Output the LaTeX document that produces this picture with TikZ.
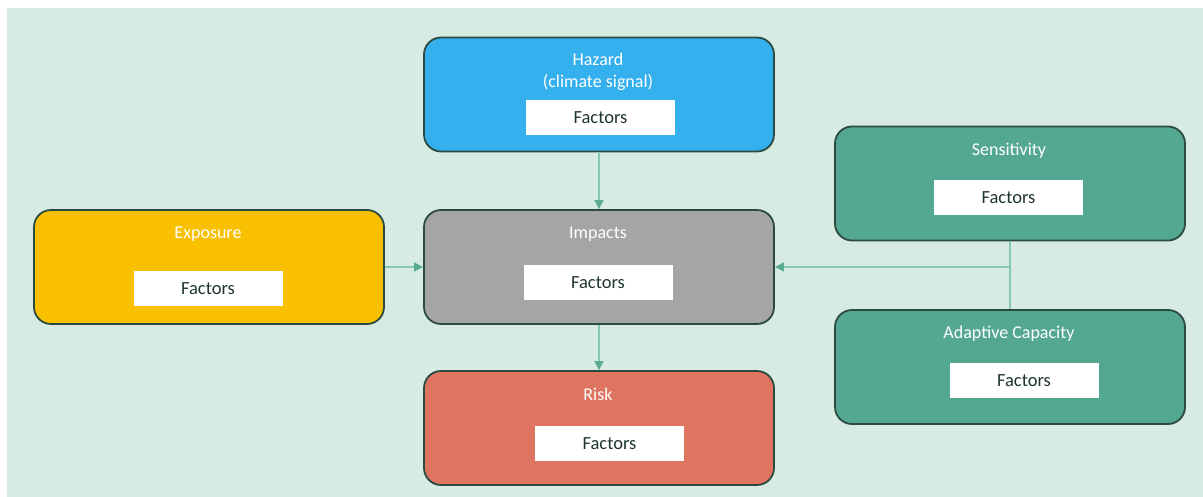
\documentclass[tikz,border=0pt]{standalone}
\usepackage{fontspec}
\setmainfont{Carlito}
\usetikzlibrary{arrows.meta}
\definecolor{bgc}{HTML}{D7EBE3}
\definecolor{edgec}{HTML}{2B4A42}
\definecolor{hazc}{HTML}{35B0EE}
\definecolor{impc}{HTML}{A5A5A5}
\definecolor{riskc}{HTML}{DF7461}
\definecolor{expc}{HTML}{F9C000}
\definecolor{senc}{HTML}{54A892}
\definecolor{linec}{HTML}{86C9B2}
\definecolor{tipc}{HTML}{5AAB92}
\definecolor{factc}{HTML}{1E3530}
\begin{document}
\begin{tikzpicture}[x=1pt,y=-1pt,
  bigbox/.style={draw=edgec,line width=1.8pt,rounded corners=17pt,minimum width=350pt,minimum height=114pt,inner sep=0pt},
  facbox/.style={fill=white,minimum width=149pt,minimum height=35pt,inner sep=0pt,text=factc,font=\fontsize{18.5}{22}\selectfont},
  ttl/.style={text=white,font=\fontsize{18}{22}\selectfont,align=center},
  conn/.style={draw=linec,line width=1.2pt,-{Triangle[length=9pt,width=9pt,color=tipc]}},
  plain/.style={draw=linec,line width=1.2pt}]
\useasboundingbox (0,0) rectangle (1203,497);
\fill[white] (0,0) rectangle (1203,497);
\fill[bgc] (7,8) rectangle (1203,497);
% big boxes
\node[bigbox,fill=hazc] (haz) at (599,94.5) {};
\node[bigbox,fill=impc] (imp) at (599,267) {};
\node[bigbox,fill=riskc] (risk) at (599,428) {};
\node[bigbox,fill=expc] (exp) at (209,267) {};
\node[bigbox,fill=senc] (sen) at (1010,183.5) {};
\node[bigbox,fill=senc] (ada) at (1010,367) {};
% titles
\node[ttl] (hazt) at (598,71.5) {Hazard\\(climate signal)};
\node[ttl] (impt) at (598,234.5) {Impacts};
\node[ttl] (riskt) at (598,394.5) {Risk};
\node[ttl] (expt) at (208,234.5) {Exposure};
\node[ttl] (sent) at (1009,150.5) {Sensitivity};
\node[ttl] (adat) at (1009,333.5) {Adaptive Capacity};
% factors
\node[facbox] (hazf) at (600.5,117.5) {Factors};
\node[facbox] (impf) at (598,282.5) {Factors};
\node[facbox] (riskf) at (609.5,443.5) {Factors};
\node[facbox] (expf) at (208,288.5) {Factors};
\node[facbox] (senf) at (1008.5,198) {Factors};
\node[facbox] (adaf) at (1024,380.5) {Factors};
% connectors
\coordinate (j) at (1010,267);
\draw[conn] (haz.south) -- (imp.north);
\draw[conn] (exp.east) -- (imp.west);
\draw[conn] (imp.south) -- (risk.north);
\draw[plain] (sen.south) -- (ada.north);
\draw[conn] (j) -- (imp.east);
\end{tikzpicture}
\end{document}
